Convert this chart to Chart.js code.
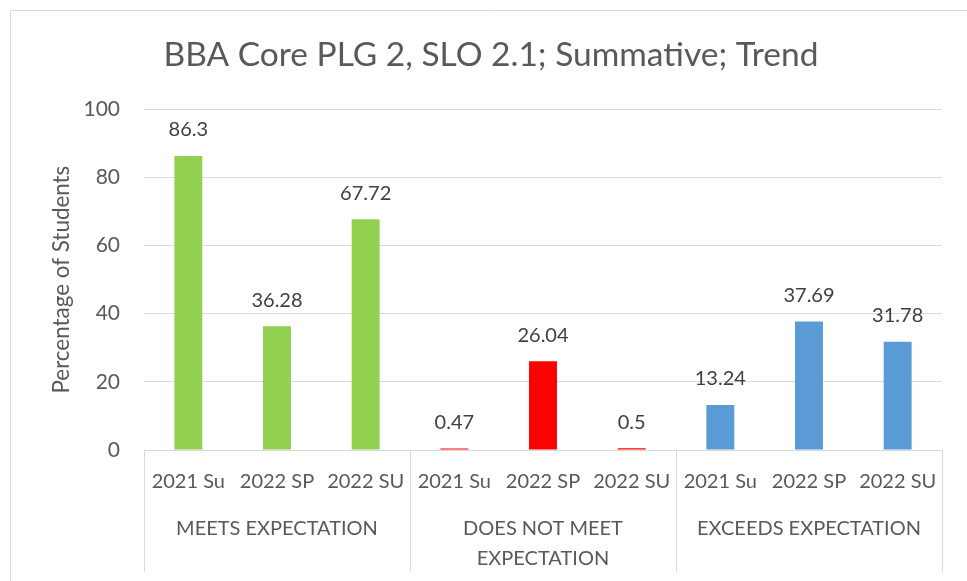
<!DOCTYPE html>
<html>
<head>
<meta charset="utf-8">
<script src="https://cdn.jsdelivr.net/npm/chart.js@4.4.0/dist/chart.umd.min.js"></script>
<style>
  html, body { margin: 0; padding: 0; background: #fff; }
  #wrap { width: 967px; height: 581px; }
</style>
</head>
<body>
<div id="wrap"><canvas id="chart"></canvas></div>
<script>
// data
const terms = ['2021 Su', '2022 SP', '2022 SU'];
const groups = ['MEETS EXPECTATION', ['DOES NOT MEET', 'EXPECTATION'], 'EXCEEDS EXPECTATION'];
const meets = [86.3, 36.28, 67.72];
const notMeet = [0.47, 26.04, 0.5];
const exceeds = [13.24, 37.69, 31.78];
const groupColors = ['#92D050', '#FF0000', '#5B9BD5'];
const yTicks = [0, 20, 40, 60, 80, 100];

const labels = [].concat(terms, terms, terms);
const values = [].concat(meets, notMeet, exceeds);
const colors = [];
groupColors.forEach(c => { terms.forEach(() => colors.push(c)); });

const FONT = 'Lato, Carlito, Calibri, sans-serif';
const grey = '#595959';
const lineGrey = '#d9d9d9';

// frame of the chart (top + left edge only, rest is cropped)
const framePlugin = {
  id: 'frame',
  beforeDraw(chart) {
    const ctx = chart.ctx;
    ctx.save();
    ctx.strokeStyle = lineGrey;
    ctx.lineWidth = 1;
    ctx.beginPath();
    ctx.moveTo(10.5, chart.height);
    ctx.lineTo(10.5, 10.5);
    ctx.lineTo(chart.width, 10.5);
    ctx.stroke();
    ctx.restore();
  }
};

// value labels above bars
const valueLabels = {
  id: 'valueLabels',
  afterDatasetsDraw(chart) {
    const ctx = chart.ctx;
    const meta = chart.getDatasetMeta(0);
    ctx.save();
    ctx.font = '20px ' + FONT;
    ctx.fillStyle = '#404040';
    ctx.textAlign = 'center';
    ctx.textBaseline = 'middle';
    meta.data.forEach((bar, i) => {
      ctx.fillText(String(values[i]), bar.x, bar.y - 26);
    });
    ctx.restore();
  }
};

// second row of the category axis: group names + divider lines
const groupAxis = {
  id: 'groupAxis',
  afterDraw(chart) {
    const ctx = chart.ctx;
    const x = chart.scales.x;
    const slot = x.width / labels.length;
    const n = terms.length;
    const bottom = x.bottom - 9;
    ctx.save();
    ctx.strokeStyle = lineGrey;
    ctx.lineWidth = 1;
    ctx.beginPath();
    for (let g = 0; g <= groups.length; g++) {
      const px = Math.round(x.left + g * n * slot) + 0.5;
      ctx.moveTo(px, x.top);
      ctx.lineTo(px, bottom);
    }
    ctx.stroke();

    ctx.font = '20px ' + FONT;
    ctx.fillStyle = grey;
    ctx.textAlign = 'center';
    ctx.textBaseline = 'middle';
    groups.forEach((name, g) => {
      const cx = (x.getPixelForValue(g * n) + x.getPixelForValue(g * n + n - 1)) / 2;
      const lines = Array.isArray(name) ? name : [name];
      lines.forEach((line, k) => {
        ctx.fillText(line, cx, x.top + 79 + k * 30);
      });
    });
    ctx.restore();
  }
};

new Chart(document.getElementById('chart'), {
  type: 'bar',
  data: {
    labels: labels,
    datasets: [{
      data: values,
      backgroundColor: colors,
      borderWidth: 0,
      barPercentage: 1,
      categoryPercentage: 0.315
    }]
  },
  options: {
    responsive: true,
    maintainAspectRatio: false,
    animation: false,
    events: [],
    layout: { padding: { left: 40, right: 25, top: 0, bottom: 0 } },
    plugins: {
      legend: { display: false },
      tooltip: { enabled: false },
      title: {
        display: true,
        text: 'BBA Core PLG 2, SLO 2.1; Summative; Trend',
        color: grey,
        font: { family: FONT, size: 33.5, weight: 'normal', lineHeight: 1.2 },
        padding: { top: 35, bottom: 34 }
      }
    },
    scales: {
      x: {
        grid: { display: false },
        border: { display: true, color: lineGrey },
        ticks: {
          color: grey,
          font: { family: FONT, size: 20 },
          autoSkip: false,
          maxRotation: 0,
          padding: 12
        },
        afterFit(scale) { scale.height = 131; }
      },
      y: {
        min: 0,
        max: 100,
        afterBuildTicks(scale) { scale.ticks = yTicks.map(v => ({ value: v })); },
        grid: { color: lineGrey, drawTicks: false },
        border: { display: false },
        ticks: {
          color: grey,
          font: { family: FONT, size: 21 },
          padding: 24
        },
        title: {
          display: true,
          text: 'Percentage of Students',
          color: grey,
          font: { family: FONT, size: 22.4 },
          padding: { top: 8, bottom: 0 }
        },
        afterFit(scale) { scale.width = 104; }
      }
    }
  },
  plugins: [framePlugin, valueLabels, groupAxis]
});
</script>
</body>
</html>
